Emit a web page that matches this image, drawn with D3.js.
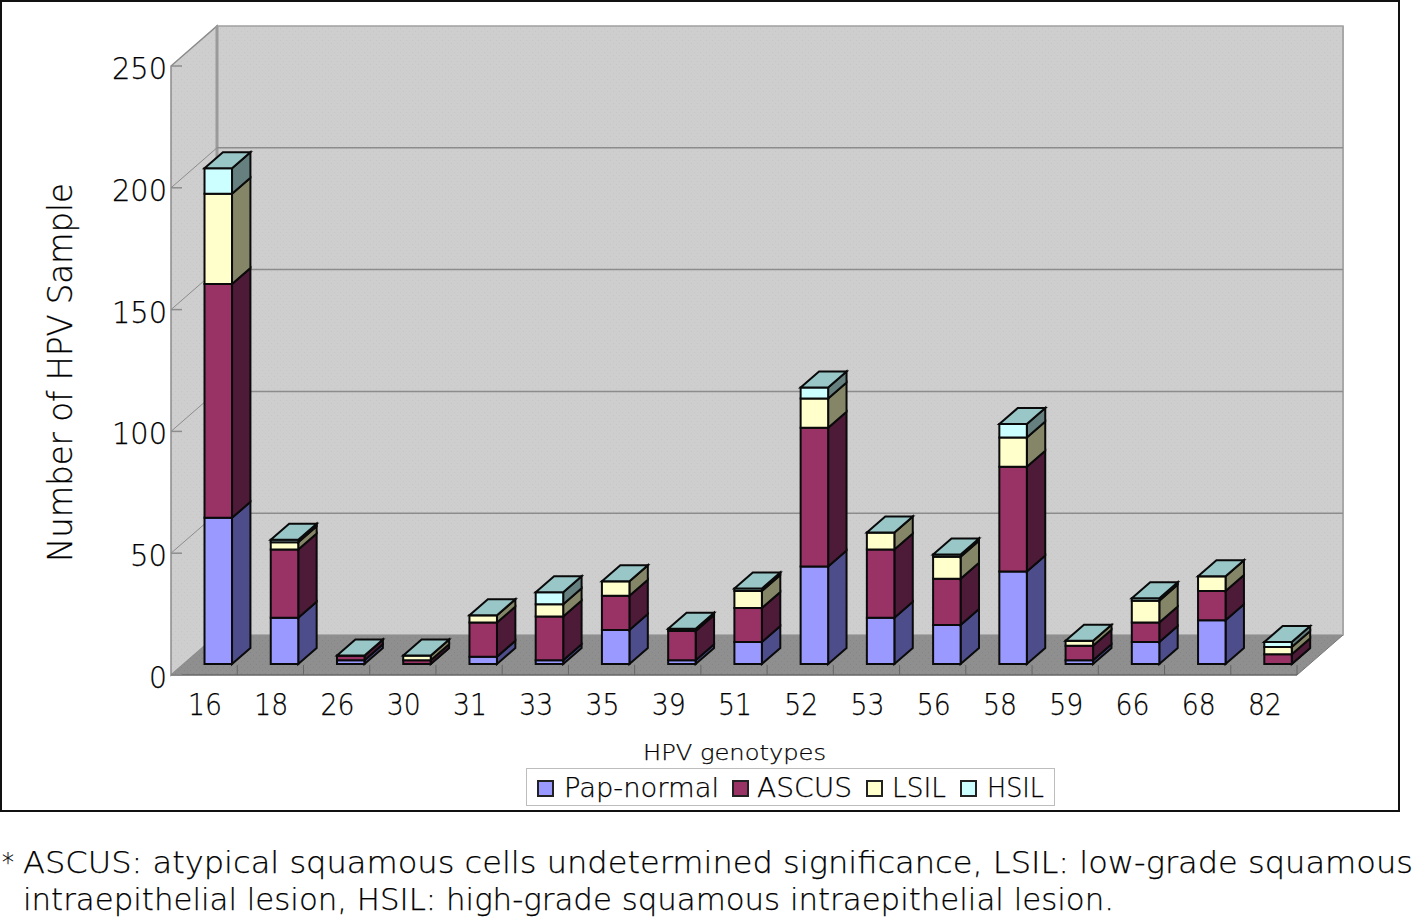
<!DOCTYPE html>
<html><head><meta charset="utf-8">
<script src="https://cdn.jsdelivr.net/npm/d3@7"></script>
<style>html,body{margin:0;padding:0;background:#fff}svg{display:block}text{font-family:"DejaVu Sans","Liberation Sans",Arial,sans-serif;font-weight:200;fill:#000;stroke:#000;stroke-width:.25}</style>
</head><body><svg id="c" width="1414" height="918"></svg>
<script>
const categories=["16","18","26","30","31","33","35","39","51","52","53","56","58","59","66","68","82"];
const seriesNames=["Pap-normal","ASCUS","LSIL","HSIL"];
const papNormal=[60,19,1.5,0,3,1.5,14,1.5,9,40,19,16,38,1.5,9,18,0];
const ascus=[96,28,2,1.5,14,18,14,12,14,57,28,19,43,6,8,12,4];
const lsil=[37,3,0,2,3,5,6,1,7,12,7,9,12,2,9,6,3];
const hsil=[10.5,1,0,0,0,5,0,0,1,4.5,0,1,5.5,0,1,0,2];
const yTicks=[0,50,100,150,200,250];
const frontColors=["#9999ff","#993366","#ffffcc","#ccffff"];
const sideColors=["#4d4d8c","#4d1a38","#858568","#668080"];
const topColor="#99c6c6";

const svg=d3.select("#c");
const x=d3.scaleBand().domain(categories).range([171,1297]);
const y=d3.scaleLinear().domain([0,250]).range([675,66]);
const DX=46,DY=-40;
const path=pts=>"M"+pts.map(p=>p.join(",")).join("L")+"Z";

const defs=svg.append("defs");
function dots(id,bg,dot){const p=defs.append("pattern").attr("id",id).attr("width",6).attr("height",6).attr("patternUnits","userSpaceOnUse");
 p.append("rect").attr("width",6).attr("height",6).attr("fill",bg);
 p.append("rect").attr("x",1).attr("y",1).attr("width",1).attr("height",1).attr("fill",dot);
 p.append("rect").attr("x",4).attr("y",4).attr("width",1).attr("height",1).attr("fill",dot);}
dots("wall","#cecece","#c6c6c6");dots("floor","#8f8f8f","#858585");

svg.append("rect").attr("x",1).attr("y",1).attr("width",1398).attr("height",810).attr("fill","#fff").attr("stroke","#111").attr("stroke-width",2);

const x0=171,x1=1297,yb=y(0),yt=y(250);
svg.append("path").attr("d",path([[x0+DX,yt+DY],[x1+DX,yt+DY],[x1+DX,yb+DY],[x0+DX,yb+DY]])).attr("fill","url(#wall)").attr("stroke","#a0a0a0").attr("stroke-width",1.5);
svg.append("path").attr("d",path([[x0,yt],[x0+DX,yt+DY],[x0+DX,yb+DY],[x0,yb]])).attr("fill","url(#wall)").attr("stroke","#8c8c8c").attr("stroke-width",1.5);
svg.append("path").attr("d",path([[x0,yb],[x1,yb],[x1+DX,yb+DY],[x0+DX,yb+DY]])).attr("fill","url(#floor)");
svg.append("line").attr("x1",x0).attr("x2",x1).attr("y1",yb).attr("y2",yb).attr("stroke","#666").attr("stroke-width",1.5);
svg.append("line").attr("x1",x1).attr("x2",x1+DX).attr("y1",yb).attr("y2",yb+DY).attr("stroke","#777").attr("stroke-width",1);
svg.append("line").attr("x1",x0+DX).attr("x2",x0+DX).attr("y1",yt+DY).attr("y2",yb+DY).attr("stroke","#9a9a9a").attr("stroke-width",3);
svg.append("line").attr("x1",x1+DX).attr("x2",x1+DX).attr("y1",yt+DY).attr("y2",yb+DY).attr("stroke","#a8a8a8").attr("stroke-width",2);

yTicks.forEach(t=>{
 const v=y(t);
 if(t>0&&t<250)svg.append("line").attr("x1",x0+DX).attr("x2",x1+DX).attr("y1",v+DY).attr("y2",v+DY).attr("stroke","#8c8c8c").attr("stroke-width",1.5);
 if(t>0&&t<250)svg.append("line").attr("x1",x0).attr("x2",x0+DX).attr("y1",v).attr("y2",v+DY).attr("stroke","#8c8c8c").attr("stroke-width",1);
 svg.append("line").attr("x1",x0).attr("x2",x0+11).attr("y1",v).attr("y2",v).attr("stroke","#8c8c8c").attr("stroke-width",1.5);
});
categories.forEach((c,i)=>{ if(i>0){const p=x(c);svg.append("line").attr("x1",p).attr("x2",p).attr("y1",yb).attr("y2",yb-10).attr("stroke","#666").attr("stroke-width",1);} });
svg.append("line").attr("x1",x1).attr("x2",x1).attr("y1",yb).attr("y2",yb-10).attr("stroke","#666").attr("stroke-width",1);

// bars
const series=[papNormal,ascus,lsil,hsil];
const W=27.5,bx=DX*0.4,by=DY*0.4;
function st(s){return s.attr("stroke","#0a0a0a").attr("stroke-width",2).attr("stroke-linejoin","miter");}
categories.forEach((c,i)=>{
 const L=x(c)+x.bandwidth()/2+0.4, R=L+W;
 let acc=0;
 series.forEach((s,k)=>{
  const v=s[i]; const yl=y(acc)-11, yh=y(acc+v)-11; acc+=v;
  st(svg.append("path").attr("d",path([[R,yl],[R+bx,yl+by],[R+bx,yh+by],[R,yh]])).attr("fill",sideColors[k]));
  st(svg.append("path").attr("d",path([[L,yl],[R,yl],[R,yh],[L,yh]])).attr("fill",frontColors[k]));
 });
 const yh=y(acc)-11;
 st(svg.append("path").attr("d",path([[L,yh],[R,yh],[R+bx,yh+by],[L+bx,yh+by]])).attr("fill",topColor));
});

function fit(txt,xs,xe,base,size){
 return svg.append("text").attr("x",xs).attr("y",base).attr("font-size",size).attr("textLength",xe-xs).attr("lengthAdjust","spacingAndGlyphs").text(txt);
}
// tick labels
const yLabelW={0:18,50:37,100:55,150:55,200:55,250:55};
yTicks.forEach(t=>{const w=yLabelW[t];fit(String(t),167-w,167,y(t)+13,31);});
categories.forEach(c=>{const m=x(c)+x.bandwidth()/2+1;fit(c,m-17,m+17,715,31);});
svg.append("text").attr("transform","translate(72,562) rotate(-90)").attr("font-size",33).attr("textLength",379).attr("lengthAdjust","spacingAndGlyphs").text("Number of HPV Sample");
fit("HPV genotypes",643,826,760,22);
// legend
svg.append("rect").attr("x",526.5).attr("y",768.5).attr("width",528).attr("height",37).attr("fill","#fff").attr("stroke","#bdbdbd").attr("stroke-width",1);
const legendSw=[537,732,866,960], legendT=[[564,719],[757,852],[892,946],[987,1044]];
seriesNames.forEach((n,k)=>{
 svg.append("rect").attr("x",legendSw[k]+1).attr("y",781).attr("width",15).attr("height",15).attr("fill",frontColors[k]).attr("stroke","#222").attr("stroke-width",2);
 fit(n,legendT[k][0],legendT[k][1],797,26);
});
// footnote
fit("*",2,14,872,26);
fit("ASCUS: atypical squamous cells undetermined significance, LSIL: low-grade squamous",23,1413,873,31);
fit("intraepithelial lesion, HSIL: high-grade squamous intraepithelial lesion.",23,1114,910,31);
</script></body></html>
